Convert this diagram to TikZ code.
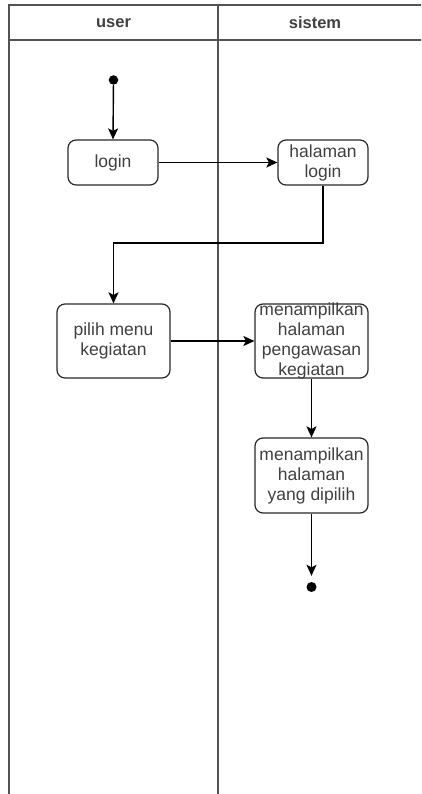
\documentclass[tikz,border=0pt]{standalone}
\usepackage{fontspec}
\setmainfont{Liberation Sans}
\usetikzlibrary{arrows.meta}
\definecolor{txt}{RGB}{64,64,64}
\definecolor{edge}{RGB}{40,40,40}
\tikzset{
  lane/.style={draw=edge!80!white, line width=1.5pt},
  actbox/.style={draw=edge, line width=1.2pt, rounded corners=8pt, fill=white, inner sep=0pt},
  acttext/.style={text=txt, align=center, font=\fontsize{17.5}{20}\selectfont, inner sep=0pt},
  headtext/.style={text=txt, font=\fontsize{16.5}{19}\selectfont\bfseries},
  flow/.style={draw=black, line width=1.4pt, -{Stealth[length=11pt,width=10pt,inset=2.5pt]}},
  dot/.style={circle, fill=black, inner sep=0pt, minimum size=9.5pt}
}
\begin{document}
\begin{tikzpicture}[x=1pt,y=-1pt]
\useasboundingbox (0,0) rectangle (421,794);
\clip (0,0) rectangle (421,794);
% swimlanes
\draw[lane] (9,810) -- (9,5) -- (440,5);
\draw[lane] (9,40) -- (440,40);
\draw[lane] (218,5) -- (218,810);
\node[headtext] (huser) at (113.5,23) {user};
\node[headtext] (hsistem) at (315,23) {sistem};
% nodes
\node[dot] (start) at (113.5,80) {};
\node[actbox, minimum width=90pt, minimum height=45pt] (login) at (113,162.5) {};
\node[acttext] at (login.center) {login};
\node[actbox, minimum width=90pt, minimum height=45pt] (hlogin) at (323,162.5) {};
\node[acttext] at (hlogin.center) {halaman\\login};
\node[actbox, minimum width=113pt, minimum height=74pt] (pilih) at (113.5,341) {};
\node[acttext] at (pilih.center) {pilih menu\\kegiatan};
\node[actbox, minimum width=113pt, minimum height=74pt] (peng) at (311.5,341) {};
\node[acttext] at (peng.center) {menampilkan\\halaman\\pengawasan\\kegiatan};
\node[actbox, minimum width=113pt, minimum height=75pt] (dipilih) at (311.5,475.5) {};
\node[acttext] at (dipilih.center) {menampilkan\\halaman\\yang dipilih};
\node[dot, minimum size=10pt] (end) at (311.5,587) {};
% connectors
\draw[flow] (start) -- (login.north);
\draw[flow] (login.east) -- (hlogin.west);
\coordinate (bend) at (323,243);
\draw[flow] (hlogin.south) -- (bend) -| (pilih.north);
\draw[flow] (pilih.east) -- (peng.west);
\draw[flow] (peng.south) -- (dipilih.north);
\draw[flow, shorten >=6pt] (dipilih.south) -- (end.north);
\end{tikzpicture}
\end{document}
